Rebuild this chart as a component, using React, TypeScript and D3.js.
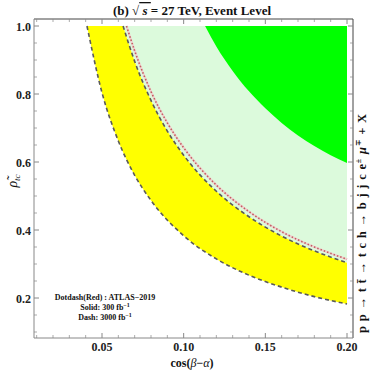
import React from "react";
import * as d3 from "d3";

// Boundary curves: [cos(beta-alpha), rho_tc]
const outerDash: [number, number][] = [
  [0.0408, 1.0], [0.05, 0.804], [0.06, 0.662], [0.07, 0.561], [0.08, 0.487],
  [0.1, 0.383], [0.12, 0.315], [0.14, 0.267], [0.16, 0.232], [0.18, 0.204], [0.2, 0.1825],
];
const innerDash: [number, number][] = [
  [0.0629, 1.0], [0.07, 0.896], [0.08, 0.781], [0.09, 0.691], [0.1, 0.62],
  [0.12, 0.514], [0.14, 0.439], [0.16, 0.382], [0.18, 0.3386], [0.2, 0.3038],
];
const atlasDotDash: [number, number][] = [
  [0.065, 1.0], [0.07, 0.927], [0.08, 0.807], [0.09, 0.715], [0.1, 0.642],
  [0.12, 0.532], [0.14, 0.454], [0.16, 0.395], [0.18, 0.35], [0.2, 0.314],
];
const solidGreen: [number, number][] = [
  [0.1131, 1.0], [0.12, 0.94], [0.13, 0.868], [0.14, 0.808], [0.15, 0.758],
  [0.16, 0.715], [0.17, 0.678], [0.18, 0.647], [0.19, 0.62], [0.2, 0.597],
];
const xTicks = [0.05, 0.1, 0.15, 0.2];
const xTickLabels = ["0.05", "0.10", "0.15", "0.20"];
const yTicks = [0.2, 0.4, 0.6, 0.8, 1.0];
const yTickLabels = ["0.2", "0.4", "0.6", "0.8", "1.0"];
const xMinor = [0.01, 0.02, 0.03, 0.04, 0.06, 0.07, 0.08, 0.09, 0.11, 0.12, 0.13, 0.14, 0.16, 0.17, 0.18, 0.19];
const yMinor = [0.1, 0.15, 0.25, 0.3, 0.35, 0.45, 0.5, 0.55, 0.65, 0.7, 0.75, 0.85, 0.9, 0.95];

const FONT = "'Liberation Serif', 'DejaVu Serif', serif";

export default function App() {
  const x = d3.scaleLinear().domain([0.05, 0.2]).range([102, 347]);
  const y = d3.scaleLinear().domain([0.2, 1.0]).range([298, 26]);
  const L = 34, R = 353, T = 19, B = 338;
  const line = d3.line<[number, number]>().x(d => x(d[0])).y(d => y(d[1])).curve(d3.curveMonotoneX);
  const smooth = (arr: [number, number][]) => line(arr) as string;
  const yellowPath = smooth(outerDash) + "L" + x(0.2) + "," + y(innerDash[innerDash.length - 1][1]) +
    (line([...innerDash].reverse() as [number, number][]) as string).replace(/^M/, "L") + "Z";
  const lightPath = smooth(innerDash) + "L" + x(0.2) + "," + y(1.0) + "Z";
  const greenPath = smooth(solidGreen) + "L" + x(0.2) + "," + y(1.0) + "Z";

  const tickMajor = 5, tickMinor = 3;
  const axisCol = "#888";
  return (
    <svg width={371} height={371} style={{ position: "absolute", left: 0, top: 0 }} fontFamily={FONT}>
      <rect width={371} height={371} fill="white" />
      <path d={lightPath} fill="#dcfadc" />
      <path d={greenPath} fill="#00ff00" />
      <path d={yellowPath} fill="#ffff00" />
      <path d={smooth(atlasDotDash)} fill="none" stroke="#f0d0d0" strokeWidth={2.2} />
      <path d={smooth(atlasDotDash)} fill="none" stroke="#c06060" strokeWidth={1.6} strokeDasharray="1.5,2" />
      <path d={smooth(outerDash)} fill="none" stroke="#5a5a5a" strokeWidth={1.6} strokeDasharray="4,3" />
      <path d={smooth(innerDash)} fill="none" stroke="#5a5a5a" strokeWidth={1.6} strokeDasharray="4,3" />
      {/* frame */}
      <line x1={L} y1={T} x2={R} y2={T} stroke="#444" strokeWidth={1} />
      <line x1={R} y1={T} x2={R} y2={B} stroke="#444" strokeWidth={1} />
      <line x1={L} y1={B} x2={R} y2={B} stroke={axisCol} strokeWidth={1} />
      <line x1={L} y1={T} x2={L} y2={B} stroke={axisCol} strokeWidth={1} />
      {xTicks.map(t => (
        <g key={"xt" + t}>
          <line x1={x(t)} x2={x(t)} y1={B} y2={B - tickMajor} stroke={axisCol} />
          <line x1={x(t)} x2={x(t)} y1={T} y2={T + tickMajor} stroke={axisCol} />
        </g>
      ))}
      {xMinor.map(t => (
        <g key={"xm" + t}>
          <line x1={x(t)} x2={x(t)} y1={B} y2={B - tickMinor} stroke={axisCol} strokeWidth={0.7} />
          <line x1={x(t)} x2={x(t)} y1={T} y2={T + tickMinor} stroke={axisCol} strokeWidth={0.7} />
        </g>
      ))}
      {yTicks.map(t => (
        <g key={"yt" + t}>
          <line x1={L} x2={L + tickMajor} y1={y(t)} y2={y(t)} stroke={axisCol} />
          <line x1={R} x2={R - tickMajor} y1={y(t)} y2={y(t)} stroke={axisCol} />
        </g>
      ))}
      {yMinor.map(t => (
        <g key={"ym" + t}>
          <line x1={L} x2={L + tickMinor} y1={y(t)} y2={y(t)} stroke={axisCol} strokeWidth={0.7} />
          <line x1={R} x2={R - tickMinor} y1={y(t)} y2={y(t)} stroke={axisCol} strokeWidth={0.7} />
        </g>
      ))}
      {xTicks.map((t, i) => (
        <text key={"xl" + t} x={x(t)} y={351} textAnchor="middle" fontSize={12} fontWeight="bold" fill="#222">{xTickLabels[i]}</text>
      ))}
      {yTicks.map((t, i) => (
        <text key={"yl" + t} x={31} y={y(t) + 4.5} textAnchor="end" fontSize={12} fontWeight="bold" fill="#222">{yTickLabels[i]}</text>
      ))}
      {/* title */}
      <text x={192} y={15} textAnchor="middle" fontSize={13} fontWeight="bold" fill="#111">
        (b) √<tspan fontStyle="italic" textDecoration="overline"> s </tspan>= 27 TeV, Event Level
      </text>
      {/* x label */}
      <text x={192} y={367} textAnchor="middle" fontSize={12} fontWeight="bold" fill="#111">
        cos(<tspan fontStyle="italic" fontWeight="normal">β</tspan>−<tspan fontStyle="italic" fontWeight="normal">α</tspan>)
      </text>
      {/* y label */}
      <text transform="translate(17,181) rotate(-90)" textAnchor="middle" fontSize={14} fill="#111" fontStyle="italic">
        ρ̃<tspan fontSize={9} dy={3}>tc</tspan>
      </text>
      {/* right label */}
      <text transform="translate(366,223) rotate(-90)" textAnchor="middle" fontSize={12.5} fontWeight="bold" fill="#111" letterSpacing={0.8}>
        p p → t t̄ → t c h → b j j c e<tspan fontSize={8} dy={-5}>±</tspan><tspan dy={5}> </tspan><tspan fontStyle="italic">μ</tspan><tspan fontSize={8} dy={-5}>∓</tspan><tspan dy={5}> + X</tspan>
      </text>
      {/* legend */}
      <g fontSize={8} fontWeight="bold" fill="#111" textAnchor="middle">
        <text x={105} y={300}>Dotdash(Red) : ATLAS−2019</text>
        <text x={105} y={310}>Solid: 300 fb<tspan fontSize={6} dy={-3}>−1</tspan></text>
        <text x={105} y={320}>Dash: 3000 fb<tspan fontSize={6} dy={-3}>−1</tspan></text>
      </g>
    </svg>
  );
}
